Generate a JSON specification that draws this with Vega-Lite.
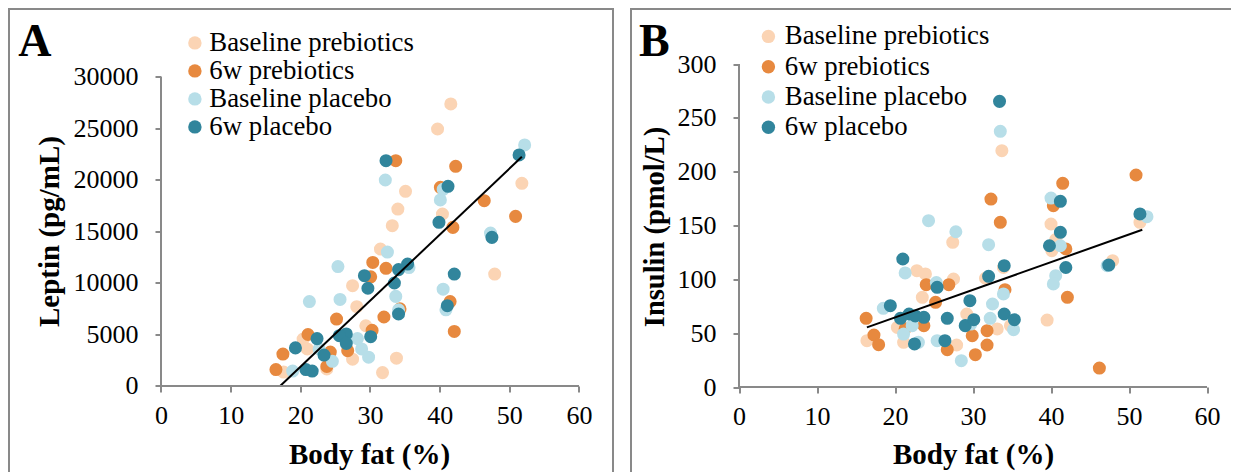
{
  "$schema": "https://vega.github.io/schema/vega-lite/v6.json",
  "padding": {"left": 8.5, "top": 8.5, "right": 0, "bottom": 0},
  "background": "white",
  "spacing": 18,
  "config": {"view": {"stroke": null}, "font": "Liberation Serif"},
  "resolve": {"scale": {"x": "independent", "y": "independent", "color": "independent"}, "legend": {"color": "independent"}},
  "datasets": {
    "leptin": [
      {"g": "Baseline prebiotics", "bf": 41.6, "v": 27380},
      {"g": "Baseline prebiotics", "bf": 39.7, "v": 24950},
      {"g": "Baseline prebiotics", "bf": 51.8, "v": 19680},
      {"g": "Baseline prebiotics", "bf": 35.1, "v": 18900},
      {"g": "Baseline prebiotics", "bf": 34.0, "v": 17180},
      {"g": "Baseline prebiotics", "bf": 40.4, "v": 16700},
      {"g": "Baseline prebiotics", "bf": 33.2, "v": 15560},
      {"g": "Baseline prebiotics", "bf": 31.5, "v": 13300},
      {"g": "Baseline prebiotics", "bf": 47.9, "v": 10870},
      {"g": "Baseline prebiotics", "bf": 27.5, "v": 9740},
      {"g": "Baseline prebiotics", "bf": 28.1, "v": 7700},
      {"g": "Baseline prebiotics", "bf": 29.4, "v": 5850},
      {"g": "Baseline prebiotics", "bf": 33.8, "v": 2700},
      {"g": "Baseline prebiotics", "bf": 31.8, "v": 1300},
      {"g": "Baseline prebiotics", "bf": 27.5, "v": 2600},
      {"g": "Baseline prebiotics", "bf": 40.3, "v": 19200},
      {"g": "Baseline prebiotics", "bf": 20.4, "v": 4560},
      {"g": "Baseline prebiotics", "bf": 21.0, "v": 3600},
      {"g": "Baseline prebiotics", "bf": 23.8, "v": 1650},
      {"g": "Baseline prebiotics", "bf": 17.6, "v": 1350},
      {"g": "Baseline prebiotics", "bf": 34.3, "v": 7400},
      {"g": "6w prebiotics", "bf": 33.7, "v": 21870},
      {"g": "6w prebiotics", "bf": 42.3, "v": 21330},
      {"g": "6w prebiotics", "bf": 46.4, "v": 17990},
      {"g": "6w prebiotics", "bf": 50.9, "v": 16470},
      {"g": "6w prebiotics", "bf": 41.9, "v": 15400},
      {"g": "6w prebiotics", "bf": 40.1, "v": 19290},
      {"g": "6w prebiotics", "bf": 30.4, "v": 12000},
      {"g": "6w prebiotics", "bf": 32.3, "v": 11430},
      {"g": "6w prebiotics", "bf": 30.1, "v": 10600},
      {"g": "6w prebiotics", "bf": 25.2, "v": 6500},
      {"g": "6w prebiotics", "bf": 32.0, "v": 6700},
      {"g": "6w prebiotics", "bf": 41.5, "v": 8200},
      {"g": "6w prebiotics", "bf": 42.1, "v": 5300},
      {"g": "6w prebiotics", "bf": 30.3, "v": 5400},
      {"g": "6w prebiotics", "bf": 34.3, "v": 7500},
      {"g": "6w prebiotics", "bf": 26.8, "v": 3430},
      {"g": "6w prebiotics", "bf": 24.3, "v": 3300},
      {"g": "6w prebiotics", "bf": 21.1, "v": 5000},
      {"g": "6w prebiotics", "bf": 17.5, "v": 3100},
      {"g": "6w prebiotics", "bf": 16.5, "v": 1600},
      {"g": "6w prebiotics", "bf": 23.8, "v": 1900},
      {"g": "Baseline placebo", "bf": 52.2, "v": 23400},
      {"g": "Baseline placebo", "bf": 32.2, "v": 20000},
      {"g": "Baseline placebo", "bf": 40.1, "v": 18060},
      {"g": "Baseline placebo", "bf": 40.5, "v": 19100},
      {"g": "Baseline placebo", "bf": 47.3, "v": 14850},
      {"g": "Baseline placebo", "bf": 32.5, "v": 13000},
      {"g": "Baseline placebo", "bf": 25.4, "v": 11600},
      {"g": "Baseline placebo", "bf": 35.6, "v": 11500},
      {"g": "Baseline placebo", "bf": 21.3, "v": 8200},
      {"g": "Baseline placebo", "bf": 25.7, "v": 8400},
      {"g": "Baseline placebo", "bf": 33.7, "v": 8700},
      {"g": "Baseline placebo", "bf": 40.5, "v": 9400},
      {"g": "Baseline placebo", "bf": 40.9, "v": 7400},
      {"g": "Baseline placebo", "bf": 34.1, "v": 7400},
      {"g": "Baseline placebo", "bf": 28.2, "v": 4600},
      {"g": "Baseline placebo", "bf": 28.8, "v": 3600},
      {"g": "Baseline placebo", "bf": 29.8, "v": 2800},
      {"g": "Baseline placebo", "bf": 24.6, "v": 2400},
      {"g": "Baseline placebo", "bf": 18.9, "v": 1450},
      {"g": "Baseline placebo", "bf": 22.7, "v": 3600},
      {"g": "6w placebo", "bf": 51.4, "v": 22430},
      {"g": "6w placebo", "bf": 32.3, "v": 21870},
      {"g": "6w placebo", "bf": 41.2, "v": 19390},
      {"g": "6w placebo", "bf": 39.9, "v": 15890},
      {"g": "6w placebo", "bf": 47.5, "v": 14430},
      {"g": "6w placebo", "bf": 35.4, "v": 11840},
      {"g": "6w placebo", "bf": 34.1, "v": 11300},
      {"g": "6w placebo", "bf": 29.2, "v": 10710},
      {"g": "6w placebo", "bf": 33.5, "v": 10000},
      {"g": "6w placebo", "bf": 29.7, "v": 9490},
      {"g": "6w placebo", "bf": 42.1, "v": 10870},
      {"g": "6w placebo", "bf": 34.1, "v": 6990},
      {"g": "6w placebo", "bf": 41.1, "v": 7800},
      {"g": "6w placebo", "bf": 30.1, "v": 4790},
      {"g": "6w placebo", "bf": 26.6, "v": 5050},
      {"g": "6w placebo", "bf": 25.6, "v": 4880},
      {"g": "6w placebo", "bf": 26.6, "v": 4140},
      {"g": "6w placebo", "bf": 22.4, "v": 4600},
      {"g": "6w placebo", "bf": 23.4, "v": 3000},
      {"g": "6w placebo", "bf": 19.3, "v": 3700},
      {"g": "6w placebo", "bf": 20.8, "v": 1600},
      {"g": "6w placebo", "bf": 21.7, "v": 1450}
    ],
    "insulin": [
      {"g": "Baseline prebiotics", "bf": 33.7, "v": 219.5},
      {"g": "Baseline prebiotics", "bf": 40.0, "v": 151.4},
      {"g": "Baseline prebiotics", "bf": 40.1, "v": 126.6},
      {"g": "Baseline prebiotics", "bf": 47.9, "v": 117.3},
      {"g": "Baseline prebiotics", "bf": 51.4, "v": 153},
      {"g": "Baseline prebiotics", "bf": 39.5, "v": 62.2},
      {"g": "Baseline prebiotics", "bf": 27.4, "v": 134.4},
      {"g": "Baseline prebiotics", "bf": 27.5, "v": 100.3},
      {"g": "Baseline prebiotics", "bf": 31.6, "v": 101},
      {"g": "Baseline prebiotics", "bf": 33.1, "v": 53.9},
      {"g": "Baseline prebiotics", "bf": 34.8, "v": 57},
      {"g": "Baseline prebiotics", "bf": 29.2, "v": 67.8},
      {"g": "Baseline prebiotics", "bf": 27.9, "v": 39},
      {"g": "Baseline prebiotics", "bf": 33.9, "v": 111},
      {"g": "Baseline prebiotics", "bf": 22.8, "v": 108},
      {"g": "Baseline prebiotics", "bf": 23.9, "v": 105},
      {"g": "Baseline prebiotics", "bf": 23.5, "v": 83.3},
      {"g": "Baseline prebiotics", "bf": 20.3, "v": 55.4},
      {"g": "Baseline prebiotics", "bf": 16.4, "v": 43},
      {"g": "Baseline prebiotics", "bf": 21.1, "v": 41.5},
      {"g": "Baseline prebiotics", "bf": 40.6, "v": 137},
      {"g": "6w prebiotics", "bf": 50.9, "v": 196.9},
      {"g": "6w prebiotics", "bf": 41.5, "v": 189.2},
      {"g": "6w prebiotics", "bf": 32.3, "v": 174.6},
      {"g": "6w prebiotics", "bf": 33.5, "v": 153},
      {"g": "6w prebiotics", "bf": 40.3, "v": 168.4},
      {"g": "6w prebiotics", "bf": 41.9, "v": 128.2},
      {"g": "6w prebiotics", "bf": 42.1, "v": 83.3},
      {"g": "6w prebiotics", "bf": 46.2, "v": 17.6},
      {"g": "6w prebiotics", "bf": 34.1, "v": 90.4},
      {"g": "6w prebiotics", "bf": 26.9, "v": 95},
      {"g": "6w prebiotics", "bf": 31.8, "v": 39},
      {"g": "6w prebiotics", "bf": 30.3, "v": 30},
      {"g": "6w prebiotics", "bf": 29.9, "v": 47.7},
      {"g": "6w prebiotics", "bf": 31.8, "v": 52.3},
      {"g": "6w prebiotics", "bf": 26.7, "v": 34.7},
      {"g": "6w prebiotics", "bf": 16.3, "v": 63.8},
      {"g": "6w prebiotics", "bf": 17.3, "v": 48.3},
      {"g": "6w prebiotics", "bf": 17.9, "v": 39.3},
      {"g": "6w prebiotics", "bf": 24.0, "v": 95},
      {"g": "6w prebiotics", "bf": 25.2, "v": 78.7},
      {"g": "6w prebiotics", "bf": 23.7, "v": 57},
      {"g": "6w prebiotics", "bf": 21.3, "v": 54},
      {"g": "Baseline placebo", "bf": 33.5, "v": 237.5},
      {"g": "Baseline placebo", "bf": 40.0, "v": 175.5},
      {"g": "Baseline placebo", "bf": 41.2, "v": 131.2},
      {"g": "Baseline placebo", "bf": 32.0, "v": 132.2},
      {"g": "Baseline placebo", "bf": 27.8, "v": 144.2},
      {"g": "Baseline placebo", "bf": 24.3, "v": 154.5},
      {"g": "Baseline placebo", "bf": 21.3, "v": 105.9},
      {"g": "Baseline placebo", "bf": 18.5, "v": 73.1},
      {"g": "Baseline placebo", "bf": 21.1, "v": 49.2},
      {"g": "Baseline placebo", "bf": 22.2, "v": 57},
      {"g": "Baseline placebo", "bf": 23.0, "v": 41.5},
      {"g": "Baseline placebo", "bf": 25.4, "v": 43},
      {"g": "Baseline placebo", "bf": 28.5, "v": 24.4},
      {"g": "Baseline placebo", "bf": 25.3, "v": 97},
      {"g": "Baseline placebo", "bf": 40.6, "v": 103.4},
      {"g": "Baseline placebo", "bf": 40.3, "v": 95.7},
      {"g": "Baseline placebo", "bf": 52.3, "v": 158.2},
      {"g": "Baseline placebo", "bf": 47.2, "v": 112.7},
      {"g": "Baseline placebo", "bf": 33.9, "v": 86.4},
      {"g": "Baseline placebo", "bf": 32.5, "v": 77.1},
      {"g": "Baseline placebo", "bf": 32.2, "v": 63.8},
      {"g": "Baseline placebo", "bf": 35.2, "v": 53.2},
      {"g": "Baseline placebo", "bf": 29.7, "v": 58.5},
      {"g": "6w placebo", "bf": 33.4, "v": 265.3},
      {"g": "6w placebo", "bf": 51.4, "v": 160.7},
      {"g": "6w placebo", "bf": 41.2, "v": 172.5},
      {"g": "6w placebo", "bf": 41.2, "v": 143.7},
      {"g": "6w placebo", "bf": 39.8, "v": 131.2},
      {"g": "6w placebo", "bf": 41.9, "v": 111},
      {"g": "6w placebo", "bf": 47.4, "v": 113.3},
      {"g": "6w placebo", "bf": 34.0, "v": 112.7},
      {"g": "6w placebo", "bf": 32.0, "v": 102.8},
      {"g": "6w placebo", "bf": 29.6, "v": 80.2},
      {"g": "6w placebo", "bf": 26.7, "v": 63.8},
      {"g": "6w placebo", "bf": 29.0, "v": 57},
      {"g": "6w placebo", "bf": 30.1, "v": 62.5},
      {"g": "6w placebo", "bf": 34.0, "v": 67.8},
      {"g": "6w placebo", "bf": 35.3, "v": 62.5},
      {"g": "6w placebo", "bf": 26.4, "v": 43},
      {"g": "6w placebo", "bf": 21.0, "v": 118.9},
      {"g": "6w placebo", "bf": 19.4, "v": 75.5},
      {"g": "6w placebo", "bf": 20.7, "v": 63.8},
      {"g": "6w placebo", "bf": 21.8, "v": 67.8},
      {"g": "6w placebo", "bf": 23.7, "v": 64.7},
      {"g": "6w placebo", "bf": 25.4, "v": 92.6},
      {"g": "6w placebo", "bf": 22.5, "v": 40},
      {"g": "6w placebo", "bf": 22.6, "v": 66}
    ],
    "trendA": [{"bf": 17.1, "v": 0}, {"bf": 51.8, "v": 22250}],
    "trendB": [{"bf": 16.4, "v": 55.4}, {"bf": 51.7, "v": 146}]
  },
  "hconcat": [
    {
      "width": 604,
      "height": 463,
      "resolve": {"axis": {"x": "independent", "y": "independent"}},
      "layer": [
        {
          "data": {"name": "leptin"},
          "mark": {"type": "circle", "size": 170, "opacity": 1},
          "encoding": {
            "x": {"field": "bf", "type": "quantitative",
              "scale": {"domain": [-21.89, 64.81], "nice": false, "zero": false},
              "axis": {"orient": "bottom", "offset": -85.5, "values": [0, 10, 20, 30, 40, 50, 60], "domain": false, "grid": false,
                "tickSize": 6, "tickColor": "#898989", "tickWidth": 2, "labelFont": "Liberation Serif", "labelFontSize": 26, "labelColor": "black",
                "labelPadding": 10, "labelFlush": false, "labelOverlap": false,
                "title": "Body fat (%)", "titleFont": "Liberation Serif", "titleFontSize": 29, "titleFontWeight": "bold", "titleColor": "black",
                "titleX": 360.5, "titleY": 68, "titleBaseline": "middle", "titleAlign": "center"}},
            "y": {"field": "v", "type": "quantitative",
              "scale": {"domain": [-8301, 36650], "nice": false, "zero": false},
              "axis": {"orient": "left", "offset": -152.5, "values": [0, 5000, 10000, 15000, 20000, 25000, 30000], "format": "d", "domain": false, "grid": false,
                "tickSize": 6, "tickColor": "#898989", "tickWidth": 2, "labelFont": "Liberation Serif", "labelFontSize": 26, "labelColor": "black",
                "labelPadding": 17, "labelFlush": false, "labelOverlap": false,
                "title": "Leptin (pg/mL)", "titleFont": "Liberation Serif", "titleFontSize": 29, "titleFontWeight": "bold", "titleColor": "black",
                "titleX": -112, "titleY": 222.5, "titleAngle": -90, "titleBaseline": "middle", "titleAlign": "center"}},
            "color": {"field": "g", "type": "nominal",
              "scale": {"domain": ["Baseline prebiotics", "6w prebiotics", "Baseline placebo", "6w placebo"], "range": ["#FBD4B4", "#E7893F", "#B7DEE8", "#31859C"]},
              "legend": {"orient": "none", "legendX": 173, "legendY": 21, "title": null, "padding": 0,
                "labelFont": "Liberation Serif", "labelFontSize": 26.8, "labelColor": "black", "labelOffset": 1, "labelLimit": 0,
                "symbolType": "circle", "symbolSize": 180, "symbolStrokeWidth": 0, "symbolOpacity": 1, "rowPadding": 0}}
          }
        },
        {
          "data": {"name": "trendA"},
          "mark": {"type": "line", "color": "black", "strokeWidth": 2},
          "encoding": {
            "x": {"field": "bf", "type": "quantitative", "scale": {"domain": [-21.89, 64.81], "nice": false, "zero": false},
              "axis": {"orient": "top", "domain": true, "domainColor": "#898989", "domainWidth": 2, "domainCap": "square", "ticks": false, "labels": false, "grid": false, "title": null}},
            "y": {"field": "v", "type": "quantitative", "scale": {"domain": [-8301, 36650], "nice": false, "zero": false},
              "axis": {"orient": "left", "domain": true, "domainColor": "#898989", "domainWidth": 2, "domainCap": "square", "ticks": false, "labels": false, "grid": false, "title": null}}
          }
        },
        {
          "data": {"values": [{}]},
          "mark": {"type": "rule", "color": "#898989", "strokeWidth": 2},
          "encoding": {
            "x": {"datum": 0, "type": "quantitative", "scale": {"domain": [-21.89, 64.81], "nice": false, "zero": false}, "axis": null},
            "x2": {"datum": 60},
            "y": {"datum": 0, "type": "quantitative", "scale": {"domain": [-8301, 36650], "nice": false, "zero": false},
              "axis": {"orient": "right", "domain": true, "domainColor": "#898989", "domainWidth": 2, "domainCap": "square", "ticks": false, "labels": false, "grid": false, "title": null}}
          }
        },
        {
          "data": {"values": [{}]},
          "mark": {"type": "rule", "color": "#898989", "strokeWidth": 2},
          "encoding": {
            "x": {"datum": 0, "type": "quantitative", "scale": {"domain": [-21.89, 64.81], "nice": false, "zero": false}, "axis": null},
            "y": {"datum": 0, "type": "quantitative", "scale": {"domain": [-8301, 36650], "nice": false, "zero": false}, "axis": null},
            "y2": {"datum": 30000}
          }
        },
        {
          "data": {"values": [{"label": "A"}]},
          "mark": {"type": "text", "font": "Liberation Serif", "fontSize": 46, "fontWeight": "bold", "align": "left", "baseline": "alphabetic", "color": "black"},
          "encoding": {
            "text": {"field": "label"},
            "x": {"datum": -20.5, "type": "quantitative", "scale": {"domain": [-21.89, 64.81], "nice": false, "zero": false}, "axis": null},
            "y": {"datum": 32000, "type": "quantitative", "scale": {"domain": [-8301, 36650], "nice": false, "zero": false}, "axis": null}
          }
        }
      ]
    },
    {
      "width": 600,
      "height": 463,
      "resolve": {"axis": {"x": "independent", "y": "independent"}},
      "layer": [
        {
          "data": {"name": "insulin"},
          "mark": {"type": "circle", "size": 170, "opacity": 1},
          "encoding": {
            "x": {"field": "bf", "type": "quantitative",
              "scale": {"domain": [-13.91, 63.01], "nice": false, "zero": false},
              "axis": {"orient": "bottom", "offset": -84.5, "values": [0, 10, 20, 30, 40, 50, 60], "domain": false, "grid": false,
                "tickSize": 6, "tickColor": "#898989", "tickWidth": 2, "labelFont": "Liberation Serif", "labelFontSize": 26, "labelColor": "black",
                "labelPadding": 10, "labelFlush": false, "labelOverlap": false,
                "title": "Body fat (%)", "titleFont": "Liberation Serif", "titleFontSize": 29, "titleFontWeight": "bold", "titleColor": "black",
                "titleX": 342.5, "titleY": 67, "titleBaseline": "middle", "titleAlign": "center"}},
            "y": {"field": "v", "type": "quantitative",
              "scale": {"domain": [-78.48, 351.55], "nice": false, "zero": false},
              "axis": {"orient": "left", "offset": -108.5, "values": [0, 50, 100, 150, 200, 250, 300], "format": "d", "domain": false, "grid": false,
                "tickSize": 6, "tickColor": "#898989", "tickWidth": 2, "labelFont": "Liberation Serif", "labelFontSize": 26, "labelColor": "black",
                "labelPadding": 17, "labelFlush": false, "labelOverlap": false,
                "title": "Insulin (pmol/L)", "titleFont": "Liberation Serif", "titleFontSize": 28.5, "titleFontWeight": "bold", "titleColor": "black",
                "titleX": -84.7, "titleY": 218, "titleAngle": -90, "titleBaseline": "middle", "titleAlign": "center"}},
            "color": {"field": "g", "type": "nominal",
              "scale": {"domain": ["Baseline prebiotics", "6w prebiotics", "Baseline placebo", "6w placebo"], "range": ["#FBD4B4", "#E7893F", "#B7DEE8", "#31859C"]},
              "legend": {"orient": "none", "legendX": 124.5, "legendY": 14.5, "title": null, "padding": 0,
                "labelFont": "Liberation Serif", "labelFontSize": 26.8, "labelColor": "black", "labelOffset": 3, "labelLimit": 0,
                "symbolType": "circle", "symbolSize": 180, "symbolStrokeWidth": 0, "symbolOpacity": 1, "rowPadding": 2.3}}
          }
        },
        {
          "data": {"name": "trendB"},
          "mark": {"type": "line", "color": "black", "strokeWidth": 2},
          "encoding": {
            "x": {"field": "bf", "type": "quantitative", "scale": {"domain": [-13.91, 63.01], "nice": false, "zero": false},
              "axis": {"orient": "top", "domain": true, "domainColor": "#898989", "domainWidth": 2, "domainCap": "square", "ticks": false, "labels": false, "grid": false, "title": null}},
            "y": {"field": "v", "type": "quantitative", "scale": {"domain": [-78.48, 351.55], "nice": false, "zero": false},
              "axis": {"orient": "left", "domain": true, "domainColor": "#898989", "domainWidth": 2, "domainCap": "square", "ticks": false, "labels": false, "grid": false, "title": null}}
          }
        },
        {
          "data": {"values": [{}]},
          "mark": {"type": "rule", "color": "#898989", "strokeWidth": 2},
          "encoding": {
            "x": {"datum": 0, "type": "quantitative", "scale": {"domain": [-13.91, 63.01], "nice": false, "zero": false}, "axis": null},
            "x2": {"datum": 60},
            "y": {"datum": 0, "type": "quantitative", "scale": {"domain": [-78.48, 351.55], "nice": false, "zero": false}, "axis": null}
          }
        },
        {
          "data": {"values": [{}]},
          "mark": {"type": "rule", "color": "#898989", "strokeWidth": 2},
          "encoding": {
            "x": {"datum": 0, "type": "quantitative", "scale": {"domain": [-13.91, 63.01], "nice": false, "zero": false}, "axis": null},
            "y": {"datum": 0, "type": "quantitative", "scale": {"domain": [-78.48, 351.55], "nice": false, "zero": false}, "axis": null},
            "y2": {"datum": 300}
          }
        },
        {
          "data": {"values": [{"label": "B"}]},
          "mark": {"type": "text", "font": "Liberation Serif", "fontSize": 46, "fontWeight": "bold", "align": "left", "baseline": "alphabetic", "color": "black"},
          "encoding": {
            "text": {"field": "label"},
            "x": {"datum": -12.82, "type": "quantitative", "scale": {"domain": [-13.91, 63.01], "nice": false, "zero": false}, "axis": null},
            "y": {"datum": 307.4, "type": "quantitative", "scale": {"domain": [-78.48, 351.55], "nice": false, "zero": false}, "axis": null}
          }
        }
      ]
    }
  ]
}
